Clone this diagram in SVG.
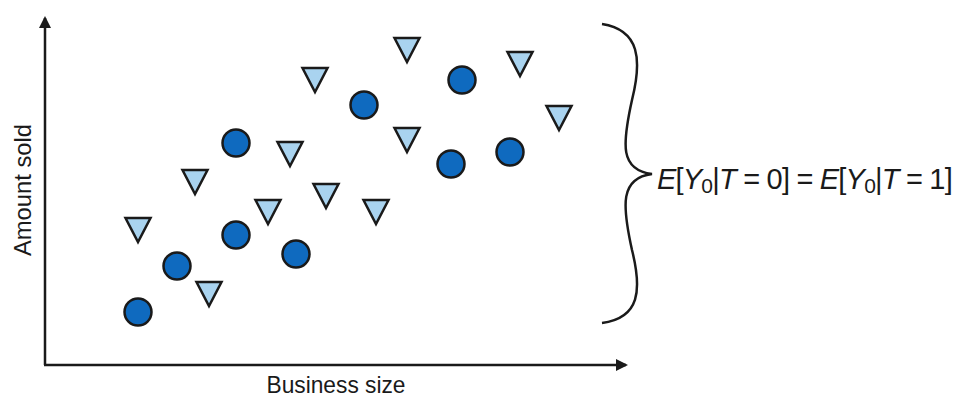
<svg xmlns="http://www.w3.org/2000/svg" width="957" height="399" viewBox="0 0 957 399">
<style>
.ax{stroke:#1a1a1a;stroke-width:2.5;fill:none}
.c{fill:#0f6abf;stroke:#1a1a1a;stroke-width:2.5}
.t{fill:#a9d3ef;stroke:#1a1a1a;stroke-width:2.5;stroke-linejoin:miter}
.lbl{font-family:"Liberation Sans",Arial,sans-serif;font-size:24px;fill:#1a1a1a}
.eq{font-family:"Liberation Sans",Arial,sans-serif;font-size:29px;letter-spacing:-0.8px;fill:#1a1a1a}
</style>
<defs>
<marker id="ah" markerWidth="12" markerHeight="12" refX="10" refY="6" orient="auto" markerUnits="userSpaceOnUse">
<path d="M0,0 L12,6 L0,12 Z" fill="#1a1a1a"/>
</marker>
<circle id="dot" r="13.5"/>
<path id="tri" d="M-12.5,-10 L12.5,-10 L0,14 Z"/>
</defs>
<g id="connectors">
<path class="ax" d="M45,365 L45,18" marker-end="url(#ah)"/>
<path class="ax" d="M44,365 L626,365" marker-end="url(#ah)"/>
<path class="ax" d="M602,24 C640,30 642,60 632,100 C622,145 620,170 652,174 C620,178 622,205 632,250 C642,290 640,318 602,323"/>
</g>
<g id="circles">
<use href="#dot" class="c" x="138" y="312"/>
<use href="#dot" class="c" x="177" y="266"/>
<use href="#dot" class="c" x="236" y="235"/>
<use href="#dot" class="c" x="296" y="254"/>
<use href="#dot" class="c" x="236" y="143"/>
<use href="#dot" class="c" x="364" y="105"/>
<use href="#dot" class="c" x="462" y="80"/>
<use href="#dot" class="c" x="451" y="164"/>
<use href="#dot" class="c" x="510" y="152"/>
</g>
<g id="triangles">
<use href="#tri" class="t" x="138" y="228"/>
<use href="#tri" class="t" x="195" y="180"/>
<use href="#tri" class="t" x="209" y="292"/>
<use href="#tri" class="t" x="268" y="210"/>
<use href="#tri" class="t" x="290" y="152"/>
<use href="#tri" class="t" x="315" y="78"/>
<use href="#tri" class="t" x="326" y="194"/>
<use href="#tri" class="t" x="376" y="210"/>
<use href="#tri" class="t" x="407" y="48"/>
<use href="#tri" class="t" x="407" y="138"/>
<use href="#tri" class="t" x="520" y="62"/>
<use href="#tri" class="t" x="559" y="116"/>
</g>
<g id="labels">
<text class="lbl" transform="translate(31,190) rotate(-90)" text-anchor="middle" textLength="132" lengthAdjust="spacingAndGlyphs">Amount sold</text>
<text class="lbl" x="336" y="393" text-anchor="middle" textLength="139" lengthAdjust="spacingAndGlyphs">Business size</text>
<text class="eq" x="657" y="189"><tspan font-style="italic">E</tspan>[<tspan font-style="italic">Y</tspan><tspan font-size="21" baseline-shift="-20%">0</tspan>|<tspan font-style="italic">T</tspan> = 0] = <tspan font-style="italic">E</tspan>[<tspan font-style="italic">Y</tspan><tspan font-size="21" baseline-shift="-20%">0</tspan>|<tspan font-style="italic">T</tspan> = 1]</text>
</g>
</svg>
